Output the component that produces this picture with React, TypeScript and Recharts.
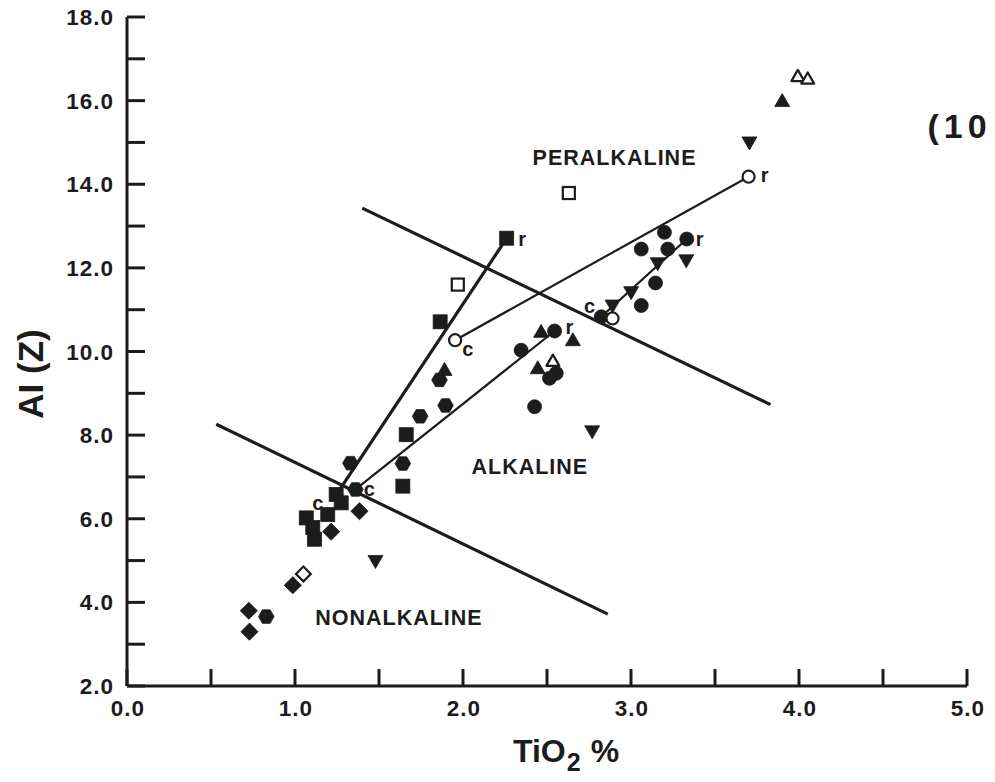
import React from 'react';
import { ScatterChart, Scatter, XAxis, YAxis, ReferenceLine, ReferenceDot } from 'recharts';

const INK = '#1c1c1c';
const FONT = '"Liberation Sans", Arial, Helvetica, sans-serif';

// ---- axis ticks ----
const xTicks = [0, 0.5, 1, 1.5, 2, 2.5, 3, 3.5, 4, 4.5, 5];
const yTicks = [2, 3, 4, 5, 6, 7, 8, 9, 10, 11, 12, 13, 14, 15, 16, 17, 18];

// ---- data (TiO2 %, AI) ----
const filledSquares = [
  { x: 2.26, y: 12.71 }, { x: 1.864, y: 10.71 }, { x: 1.662, y: 8.01 }, { x: 1.642, y: 6.78 },
  { x: 1.245, y: 6.58 }, { x: 1.275, y: 6.38 }, { x: 1.195, y: 6.1 }, { x: 1.067, y: 6.02 },
  { x: 1.106, y: 5.79 }, { x: 1.116, y: 5.51 },
];
const openSquares = [{ x: 2.63, y: 13.79 }, { x: 1.969, y: 11.6 }];
const filledDiamonds = [
  { x: 1.384, y: 6.18 }, { x: 1.215, y: 5.69 }, { x: 0.987, y: 4.41 }, { x: 0.725, y: 3.8 }, { x: 0.729, y: 3.3 },
];
const openDiamonds = [{ x: 1.05, y: 4.68 }];
const hexagons = [
  { x: 0.829, y: 3.66 }, { x: 1.33, y: 7.33 }, { x: 1.36, y: 6.7 }, { x: 1.642, y: 7.32 },
  { x: 1.745, y: 8.45 }, { x: 1.896, y: 8.71 }, { x: 1.86, y: 9.32 },
];
const filledCircles = [
  { x: 2.346, y: 10.03 }, { x: 2.426, y: 8.68 }, { x: 2.555, y: 9.48 }, { x: 2.515, y: 9.36 },
  { x: 2.545, y: 10.49 }, { x: 3.199, y: 12.85 }, { x: 3.061, y: 12.45 }, { x: 3.219, y: 12.45 },
  { x: 3.332, y: 12.69 }, { x: 3.146, y: 11.64 }, { x: 3.061, y: 11.1 }, { x: 2.823, y: 10.83 },
];
const openCircles = [{ x: 1.953, y: 10.27 }, { x: 3.7, y: 14.18 }, { x: 2.89, y: 10.79 }];
const filledTriangles = [
  { x: 2.654, y: 10.27 }, { x: 2.465, y: 10.47 }, { x: 2.445, y: 9.6 }, { x: 3.9, y: 15.99 }, { x: 1.89, y: 9.56 },
];
const openTriangles = [{ x: 3.993, y: 16.58 }, { x: 4.052, y: 16.52 }, { x: 2.535, y: 9.77 }];
const downTriangles = [
  { x: 3.705, y: 15.0 }, { x: 3.329, y: 12.18 }, { x: 3.159, y: 12.11 }, { x: 3.001, y: 11.42 },
  { x: 2.89, y: 11.1 }, { x: 2.769, y: 8.09 }, { x: 1.479, y: 4.99 },
];

// ---- field boundaries and trend lines ----
const boundaryLower = [{ x: 0.531, y: 8.26 }, { x: 2.862, y: 3.72 }];
const boundaryUpper = [{ x: 1.4, y: 13.43 }, { x: 3.83, y: 8.73 }];
const squareTrend = [{ x: 1.27, y: 6.72 }, { x: 2.26, y: 12.71 }];
const openCircleTrend = [{ x: 1.953, y: 10.27 }, { x: 3.7, y: 14.18 }];
const hexTrend = [{ x: 1.36, y: 6.7 }, { x: 2.545, y: 10.49 }];
const triTrend = [{ x: 2.823, y: 10.83 }, { x: 3.332, y: 12.69 }];

// ---- annotations ----
const endLabels = [
  { x: 1.136, y: 6.38, t: 'c' }, { x: 1.443, y: 6.7, t: 'c' }, { x: 2.352, y: 12.69, t: 'r' },
  { x: 2.029, y: 10.07, t: 'c' }, { x: 3.795, y: 14.21, t: 'r' }, { x: 2.634, y: 10.59, t: 'r' },
  { x: 2.753, y: 11.09, t: 'c' }, { x: 3.408, y: 12.69, t: 'r' },
];
const fieldLabels = [
  { x: 2.902, y: 14.66, t: 'PERALKALINE' },
  { x: 2.398, y: 7.25, t: 'ALKALINE' },
  { x: 1.619, y: 3.66, t: 'NONALKALINE' },
];
const figureLabel = { x: 4.765, y: 15.42, t: '(10' };

type Kind = 'square' | 'circle' | 'hexagon' | 'diamond' | 'tri' | 'triDown';

const makeShape = (kind: Kind, filled: boolean) => (props: any) => {
  const { cx, cy } = props;
  if (cx == null || cy == null) return <g />;
  const fill = filled ? INK : '#ffffff';
  const stroke = INK;
  const sw = filled ? 0.8 : 2.2;
  const s = filled ? 1 : 0.86;
  switch (kind) {
    case 'square': {
      const h = 7 * s;
      return <rect x={cx - h} y={cy - h} width={2 * h} height={2 * h} fill={fill} stroke={stroke} strokeWidth={sw} />;
    }
    case 'circle':
      return <circle cx={cx} cy={cy} r={7 * s} fill={fill} stroke={stroke} strokeWidth={sw} />;
    case 'hexagon': {
      const r = 7.8;
      const pts = [0, 60, 120, 180, 240, 300]
        .map((a) => `${cx + r * Math.cos((a * Math.PI) / 180)},${cy + r * Math.sin((a * Math.PI) / 180)}`)
        .join(' ');
      return <polygon points={pts} fill={fill} stroke={stroke} strokeWidth={sw} strokeLinejoin="round" />;
    }
    case 'diamond': {
      const h = 8.6 * s;
      return <polygon points={`${cx},${cy - h} ${cx + h},${cy} ${cx},${cy + h} ${cx - h},${cy}`} fill={fill} stroke={stroke} strokeWidth={sw} />;
    }
    case 'tri': {
      const w = 7.5 * s;
      return <polygon points={`${cx},${cy - 7.5 * s} ${cx + w},${cy + 5.5 * s} ${cx - w},${cy + 5.5 * s}`} fill={fill} stroke={stroke} strokeWidth={sw} strokeLinejoin="round" />;
    }
    case 'triDown':
    default: {
      const w = 7.5 * s;
      return <polygon points={`${cx},${cy + 7.5 * s} ${cx + w},${cy - 5.5 * s} ${cx - w},${cy - 5.5 * s}`} fill={fill} stroke={stroke} strokeWidth={sw} />;
    }
  }
};

const endLabelShape = (props: any) => {
  const { cx, cy, payload } = props;
  return (
    <text x={cx} y={cy} textAnchor="middle" dominantBaseline="central" fontFamily={FONT} fontWeight="bold" fontSize={20} fill={INK}>
      {payload.t}
    </text>
  );
};

const fieldLabelShape = (props: any) => {
  const { cx, cy, payload } = props;
  return (
    <text x={cx} y={cy + 8} textAnchor="middle" fontFamily={FONT} fontWeight="bold" fontSize={21.5} letterSpacing={1} fill={INK}>
      {payload.t}
    </text>
  );
};

const FigureLabelShape = (props: any) => {
  const { cx, cy } = props;
  if (cx == null || cy == null) return <g />;
  return (
    <text x={cx} y={cy + 13} textAnchor="start" fontFamily={FONT} fontWeight="bold" fontSize={34} letterSpacing={5} fill={INK}>
      {figureLabel.t}
    </text>
  );
};

const XTick = (props: any) => {
  const { x, y, payload } = props;
  const v = payload.value as number;
  const major = Math.abs(v - Math.round(v)) < 1e-9;
  return (
    <g>
      <line x1={x} x2={x} y1={y} y2={y - 17} stroke={INK} strokeWidth={3} />
      {major && (
        <text x={x + 1} y={y + 30} textAnchor="middle" fontFamily={FONT} fontWeight="bold" fontSize={22.5} letterSpacing={1} fill={INK}>
          {v.toFixed(1)}
        </text>
      )}
    </g>
  );
};

const YTick = (props: any) => {
  const { x, y, payload } = props;
  const v = payload.value as number;
  const major = v % 2 === 0;
  return (
    <g>
      <line x1={x} x2={x + 18} y1={y} y2={y} stroke={INK} strokeWidth={3} />
      {major && (
        <text x={x - 13} y={y + 8} textAnchor="end" fontFamily={FONT} fontWeight="bold" fontSize={22.5} letterSpacing={1} fill={INK}>
          {v.toFixed(1)}
        </text>
      )}
    </g>
  );
};

const XTitle = (props: any) => {
  const vb = props.viewBox || { x: 119, y: 678 };
  return (
    <text x={vb.x + 386} y={vb.y + 76} textAnchor="start" fontFamily={FONT} fontWeight="bold" fontSize={32} fill={INK}>
      <tspan>TiO</tspan>
      <tspan dy={9} dx={1} fontSize={25}>2</tspan>
      <tspan dy={-9} dx={10}>%</tspan>
    </text>
  );
};

const YTitle = (props: any) => {
  const vb = props.viewBox || { x: 0, y: 9 };
  const tx = vb.x + 35;
  const ty = vb.y + 357;
  return (
    <text transform={`translate(${tx},${ty}) rotate(-90)`} textAnchor="middle" fontFamily={FONT} fontWeight="bold" fontSize={35} fill={INK}>
      AI (Z)
    </text>
  );
};

export default function App() {
  return (
    <div style={{ width: 987, height: 774, background: '#ffffff' }}>
      <style>{'.recharts-surface{overflow:visible}'}</style>
      <ScatterChart width={987} height={774} margin={{ top: 9, right: 28, bottom: 0, left: 0 }}>
        <XAxis
          type="number"
          dataKey="x"
          domain={[0, 5]}
          ticks={xTicks}
          interval={0}
          tickSize={0}
          tickMargin={0}
          tickLine={false}
          tick={<XTick />}
          axisLine={{ stroke: INK, strokeWidth: 3 }}
          height={96}
          label={<XTitle />}
        />
        <YAxis
          type="number"
          dataKey="y"
          domain={[2, 18]}
          ticks={yTicks}
          interval={0}
          tickSize={0}
          tickMargin={0}
          tickLine={false}
          tick={<YTick />}
          axisLine={{ stroke: INK, strokeWidth: 3 }}
          width={119}
          label={<YTitle />}
        />
        <ReferenceLine segment={boundaryLower} stroke={INK} strokeWidth={3.2} ifOverflow="visible" />
        <ReferenceLine segment={boundaryUpper} stroke={INK} strokeWidth={3.2} ifOverflow="visible" />
        <ReferenceLine segment={squareTrend} stroke={INK} strokeWidth={3.2} ifOverflow="visible" />
        <ReferenceLine segment={openCircleTrend} stroke={INK} strokeWidth={2.2} ifOverflow="visible" />
        <ReferenceLine segment={hexTrend} stroke={INK} strokeWidth={2.2} ifOverflow="visible" />
        <ReferenceLine segment={triTrend} stroke={INK} strokeWidth={2.2} ifOverflow="visible" />

        <Scatter data={filledSquares} shape={makeShape('square', true)} isAnimationActive={false} />
        <Scatter data={openSquares} shape={makeShape('square', false)} isAnimationActive={false} />
        <Scatter data={filledDiamonds} shape={makeShape('diamond', true)} isAnimationActive={false} />
        <Scatter data={openDiamonds} shape={makeShape('diamond', false)} isAnimationActive={false} />
        <Scatter data={hexagons} shape={makeShape('hexagon', true)} isAnimationActive={false} />
        <Scatter data={filledCircles} shape={makeShape('circle', true)} isAnimationActive={false} />
        <Scatter data={openCircles} shape={makeShape('circle', false)} isAnimationActive={false} />
        <Scatter data={filledTriangles} shape={makeShape('tri', true)} isAnimationActive={false} />
        <Scatter data={openTriangles} shape={makeShape('tri', false)} isAnimationActive={false} />
        <Scatter data={downTriangles} shape={makeShape('triDown', true)} isAnimationActive={false} />

        <Scatter data={endLabels} shape={endLabelShape} isAnimationActive={false} />
        <Scatter data={fieldLabels} shape={fieldLabelShape} isAnimationActive={false} />
        <ReferenceDot x={figureLabel.x} y={figureLabel.y} ifOverflow="visible" shape={<FigureLabelShape />} />
      </ScatterChart>
    </div>
  );
}
